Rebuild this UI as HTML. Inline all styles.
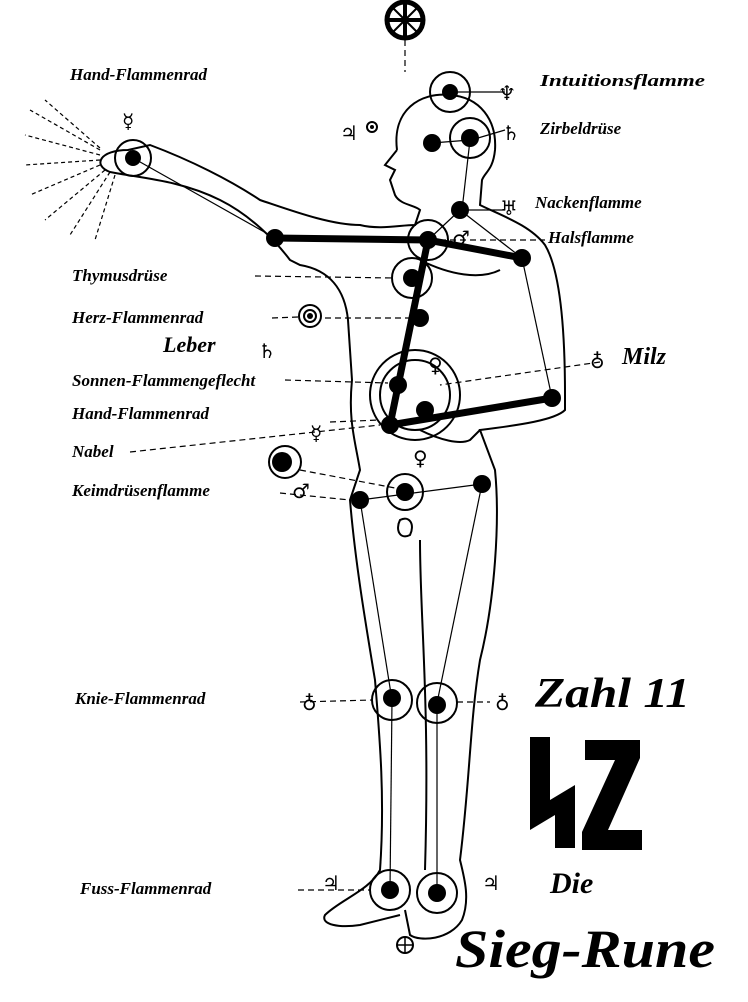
<!DOCTYPE html>
<html><head><meta charset="utf-8"><style>
html,body{margin:0;padding:0;background:#fff;}
svg{display:block;}
text{font-family:"Liberation Serif",serif;font-style:italic;font-weight:bold;fill:#000;}
.s{font-style:normal;font-weight:normal;font-family:"DejaVu Sans",sans-serif;}
</style></head><body>
<svg width="748" height="1002" viewBox="0 0 748 1002" xmlns="http://www.w3.org/2000/svg">
<rect width="748" height="1002" fill="#fff"/>
<g fill="none" stroke="#000" stroke-width="2">
<path d="M397,150 C392,110 420,92 450,95 C480,97 497,120 495,150 C493,170 485,172 482,180 L480,205 C500,215 530,225 545,245 C560,270 565,330 565,395 L565,410 C555,420 520,425 480,430 L495,470 C500,520 495,600 480,660 C470,720 470,780 460,860 C465,880 470,900 462,920 C450,940 420,942 410,935 L405,910"/>
<path d="M397,150 L385,165 L395,170 L390,180 L395,195 C400,205 415,205 420,210 L415,225 C400,225 380,230 360,225 C330,225 290,210 260,200 C230,180 190,160 150,145 L128,150 C100,150 92,165 110,172 C140,178 180,180 220,200 C250,215 275,240 290,260 L300,265 C330,270 345,290 348,320 L352,380 C348,420 355,440 360,470 L350,500 C355,560 365,620 375,680 C380,740 385,800 380,870 C370,890 340,900 325,915 C320,925 340,928 360,925 L400,915"/>
<path d="M400,520 C395,530 400,540 410,535 C415,525 410,515 400,520Z"/>
<path d="M420,260 C450,275 480,280 500,270"/>
<path d="M420,540 C420,620 430,700 425,870"/>
<path d="M480,430 L470,440 C460,445 440,440 420,430"/>
</g>
<g stroke="#000" stroke-width="1.2" fill="none">
<line x1="133" y1="158" x2="275" y2="238"/>
<line x1="460" y1="210" x2="428" y2="240"/>
<line x1="460" y1="210" x2="522" y2="258"/>
<line x1="522" y1="258" x2="552" y2="398"/>
<line x1="360" y1="500" x2="392" y2="700"/>
<line x1="482" y1="484" x2="437" y2="703"/>
<line x1="392" y1="700" x2="390" y2="890"/>
<line x1="437" y1="703" x2="437" y2="893"/>
<line x1="360" y1="500" x2="482" y2="484"/>
<line x1="470" y1="140" x2="462" y2="210"/>
<line x1="432" y1="143" x2="470" y2="140"/>
</g>
<g stroke="#000" stroke-width="7" fill="none">
<polyline points="275,238 428,240 522,258"/>
<line x1="428" y1="240" x2="390" y2="425"/>
<line x1="390" y1="425" x2="552" y2="398"/>
</g>
<g fill="none" stroke="#000" stroke-width="2">
<circle cx="450" cy="92" r="20"/><circle cx="470" cy="138" r="20"/>
<circle cx="428" cy="240" r="20"/><circle cx="412" cy="278" r="20"/>
<circle cx="415" cy="395" r="45"/><circle cx="415" cy="395" r="35"/>
<circle cx="133" cy="158" r="18"/><circle cx="285" cy="462" r="16"/>
<circle cx="405" cy="492" r="18"/><circle cx="392" cy="700" r="20"/>
<circle cx="437" cy="703" r="20"/><circle cx="390" cy="890" r="20"/>
<circle cx="437" cy="893" r="20"/>
<circle cx="405" cy="945" r="8"/><circle cx="310" cy="316" r="11"/>
<circle cx="310" cy="316" r="6"/><circle cx="372" cy="127" r="5"/>
</g>
<circle cx="405" cy="20" r="18" fill="none" stroke="#000" stroke-width="5"/>
<g stroke="#000" stroke-width="4">
<line x1="387" y1="20" x2="423" y2="20"/><line x1="405" y1="2" x2="405" y2="38"/>
<line x1="392" y1="7" x2="418" y2="33" stroke-width="2"/><line x1="418" y1="7" x2="392" y2="33" stroke-width="2"/>
</g>
<line x1="397" y1="945" x2="413" y2="945" stroke="#000" stroke-width="1.5"/>
<line x1="405" y1="937" x2="405" y2="953" stroke="#000" stroke-width="1.5"/>
<g fill="#000">
<circle cx="450" cy="92" r="8"/><circle cx="470" cy="138" r="9"/><circle cx="432" cy="143" r="9"/>
<circle cx="460" cy="210" r="9"/><circle cx="428" cy="240" r="9"/><circle cx="275" cy="238" r="9"/>
<circle cx="522" cy="258" r="9"/><circle cx="412" cy="278" r="9"/><circle cx="420" cy="318" r="9"/>
<circle cx="398" cy="385" r="9"/><circle cx="425" cy="410" r="9"/><circle cx="552" cy="398" r="9"/>
<circle cx="390" cy="425" r="9"/><circle cx="133" cy="158" r="8"/><circle cx="282" cy="462" r="10"/>
<circle cx="405" cy="492" r="9"/><circle cx="360" cy="500" r="9"/><circle cx="482" cy="484" r="9"/>
<circle cx="392" cy="698" r="9"/><circle cx="437" cy="705" r="9"/><circle cx="390" cy="890" r="9"/>
<circle cx="437" cy="893" r="9"/><circle cx="310" cy="316" r="3"/><circle cx="372" cy="127" r="2"/>
</g>
<g stroke="#000" stroke-width="1.2" stroke-dasharray="4,3">
<line x1="100" y1="150" x2="30" y2="110"/><line x1="100" y1="155" x2="25" y2="135"/>
<line x1="100" y1="160" x2="25" y2="165"/><line x1="100" y1="165" x2="30" y2="195"/>
<line x1="105" y1="170" x2="45" y2="220"/><line x1="110" y1="172" x2="70" y2="235"/>
<line x1="100" y1="148" x2="45" y2="100"/><line x1="115" y1="175" x2="95" y2="240"/>
</g>
<g stroke="#000" stroke-width="1.2" stroke-dasharray="6,4" fill="none">
<line x1="405" y1="40" x2="405" y2="72"/>
<line x1="255" y1="276" x2="395" y2="278"/>
<line x1="272" y1="318" x2="298" y2="317"/>
<line x1="325" y1="318" x2="410" y2="318"/>
<line x1="285" y1="380" x2="388" y2="383"/>
<line x1="600" y1="362" x2="440" y2="385"/>
<line x1="330" y1="422" x2="380" y2="420"/>
<line x1="130" y1="452" x2="380" y2="425"/>
<line x1="300" y1="470" x2="395" y2="488"/>
<line x1="280" y1="493" x2="350" y2="500"/>
<line x1="300" y1="702" x2="372" y2="700"/>
<line x1="457" y1="702" x2="490" y2="702"/>
<line x1="298" y1="890" x2="370" y2="890"/>
<line x1="440" y1="240" x2="545" y2="240"/>
</g>
<g stroke="#000" stroke-width="1.2">
<line x1="458" y1="92" x2="505" y2="92"/><line x1="478" y1="138" x2="505" y2="130"/>
<line x1="468" y1="210" x2="505" y2="210"/>
</g>
<g font-size="20">
<text class="s" x="498" y="100">♆</text>
<text class="s" x="502" y="140">♄</text>
<text class="s" x="500" y="215">♅</text>
<text class="s" x="340" y="140">♃</text>
<text class="s" x="122" y="128">☿</text>
<text class="s" x="452" y="245">♂</text>
<text class="s" x="258" y="358">♄</text>
<text class="s" x="428" y="372">♀</text>
<text class="s" x="590" y="368">♁</text>
<text class="s" x="310" y="440">☿</text>
<text class="s" x="413" y="465">♀</text>
<text class="s" x="292" y="498">♂</text>
<text class="s" x="302" y="710">♁</text>
<text class="s" x="495" y="710">♁</text>
<text class="s" x="322" y="890">♃</text>
<text class="s" x="482" y="890">♃</text>
</g>
<g font-size="17">
<text x="70" y="80">Hand-Flammenrad</text>
<text x="540" y="86" textLength="165" lengthAdjust="spacingAndGlyphs">Intuitionsflamme</text>
<text x="540" y="134">Zirbeldrüse</text>
<text x="535" y="208">Nackenflamme</text>
<text x="548" y="243">Halsflamme</text>
<text x="72" y="281">Thymusdrüse</text>
<text x="72" y="323">Herz-Flammenrad</text>
<text x="72" y="386">Sonnen-Flammengeflecht</text>
<text x="72" y="419">Hand-Flammenrad</text>
<text x="72" y="457">Nabel</text>
<text x="72" y="496">Keimdrüsenflamme</text>
<text x="75" y="704">Knie-Flammenrad</text>
<text x="80" y="894">Fuss-Flammenrad</text>
</g>
<text x="163" y="352" font-size="22">Leber</text>
<text x="622" y="364" font-size="24">Milz</text>
<text x="535" y="707" font-size="42" textLength="155" lengthAdjust="spacingAndGlyphs">Zahl 11</text>
<text x="550" y="893" font-size="30">Die</text>
<text x="455" y="967" font-size="54" textLength="260" lengthAdjust="spacingAndGlyphs">Sieg-Rune</text>
<g fill="#000">
<polygon points="530,737 550,737 550,800 575,785 575,848 555,848 555,815 530,830"/>
<polygon points="585,740 640,740 640,758 608,830 642,830 642,850 582,850 582,832 615,760 585,760"/>
</g>
</svg>
</body></html>
